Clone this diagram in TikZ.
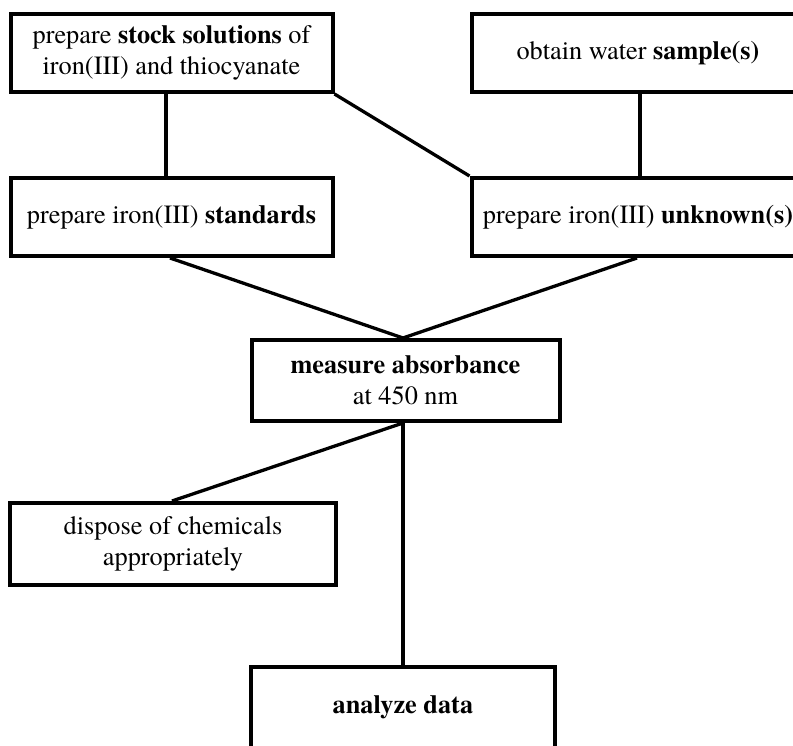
\documentclass[tikz,border=0pt]{standalone}
\usepackage{fontspec}
\setmainfont{texgyretermes-regular.otf}[BoldFont=texgyretermes-bold.otf]
\begin{document}
\begin{tikzpicture}[x=1pt,y=-1pt,
  box/.style={draw=black,line width=4pt,fill=white,align=center,inner sep=0pt,
    font=\fontsize{26.3}{31.5}\selectfont},
  conn/.style={line width=3.3pt,draw=black}]
\clip (0,0) rectangle (793,746);
\fill[white] (0,0) rectangle (793,746);
\node[box,minimum width=322,minimum height=78] (A) at (171.5,53) {prepare \textbf{stock solutions} of\\iron(III) and thiocyanate};
\node[box,minimum width=333,minimum height=78] (B) at (638,53) {obtain water \textbf{sample(s)}};
\node[box,minimum width=322,minimum height=78] (C) at (171.5,217) {prepare iron(III) \textbf{standards}};
\node[box,minimum width=333,minimum height=78] (D) at (638,217) {prepare iron(III) \textbf{unknown(s)}};
\node[box,minimum width=308,minimum height=81] (E) at (405.5,380.5) {\textbf{measure absorbance}\\at 450 nm};
\node[box,minimum width=326,minimum height=82] (F) at (173,544) {dispose of chemicals\\appropriately};
\node[box,minimum width=304,minimum height=81] (G) at (403,707) {\textbf{analyze data}};
\coordinate (Etop) at ([xshift=-2.5]E.north);
\coordinate (Ebot) at ([xshift=-2.5]E.south);
\draw[conn] ([xshift=-5.5]A.south) -- ([xshift=-5.5]C.north);
\draw[conn] (A.south east) -- (D.north west);
\draw[conn] ([xshift=2]B.south) -- ([xshift=2]D.north);
\draw[conn] ([xshift=-1.5]C.south) -- (Etop);
\draw[conn] ([xshift=-1]D.south) -- (Etop);
\draw[conn] (Ebot) -- ([xshift=-1]F.north);
\draw[conn] (Ebot) -- (G.north);
\end{tikzpicture}
\end{document}
